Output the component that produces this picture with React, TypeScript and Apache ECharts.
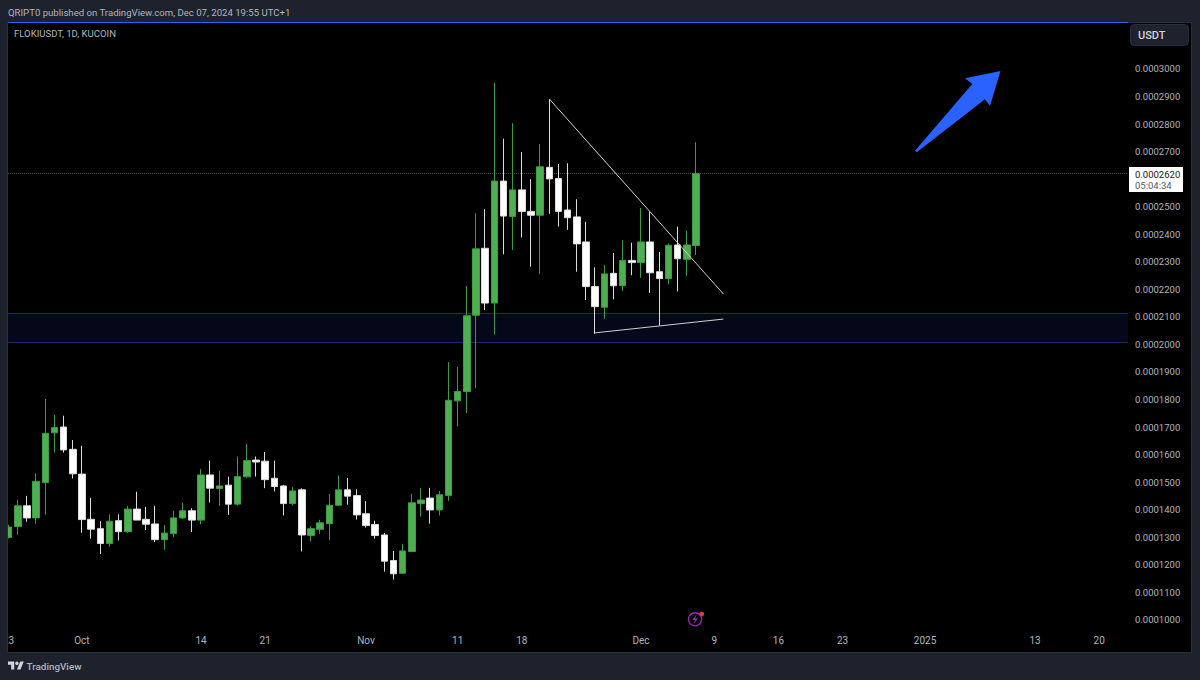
import React, { useEffect, useRef } from "react";
import * as echarts from "echarts";

// Prices are expressed in units of 1e-7 USDT.
const PRICE_UNIT = 1e7;

const opens = [1299,1339,1414,1370,1498,1679,1700,1619,1529,1365,1331,1277,1360,1320,1402,1365,1348,1291,1313,1370,1396,1362,1526,1477,1489,1420,1519,1580,1576,1514,1486,1422,1472,1306,1329,1349,1416,1472,1451,1385,1346,1308,1215,1169,1248,1422,1442,1399,1451,1795,1829,2106,2349,2150,2593,2464,2561,2483,2469,2643,2602,2488,2463,2372,2210,2135,2258,2213,2305,2297,2372,2264,2239,2361,2309,2359];
const closes = [1337,1414,1370,1503,1677,1698,1617,1530,1364,1329,1277,1358,1320,1402,1362,1347,1291,1315,1370,1396,1362,1526,1478,1486,1420,1520,1578,1573,1509,1484,1422,1468,1308,1331,1352,1416,1472,1449,1381,1342,1306,1213,1167,1250,1425,1435,1399,1454,1797,1829,2104,2347,2150,2593,2466,2561,2483,2469,2645,2601,2483,2460,2365,2210,2137,2256,2213,2305,2297,2372,2260,2239,2360,2311,2361,2620];
const lows = [1295,1309,1356,1349,1382,1607,1607,1513,1316,1295,1239,1266,1288,1315,1362,1326,1282,1254,1300,1366,1319,1347,1426,1414,1381,1415,1516,1520,1478,1466,1379,1415,1248,1285,1312,1289,1416,1418,1364,1335,1295,1175,1146,1169,1248,1375,1349,1379,1432,1702,1751,1841,2125,2036,2327,2343,2388,2282,2256,2474,2428,2416,2264,2161,2038,2093,2164,2194,2251,2242,2187,2068,2218,2192,2249,2325];
const highs = [1345,1436,1450,1532,1802,1744,1741,1653,1632,1443,1358,1383,1383,1414,1465,1410,1414,1344,1396,1425,1405,1548,1578,1541,1520,1593,1638,1593,1609,1578,1490,1483,1478,1340,1363,1457,1524,1515,1474,1431,1360,1315,1250,1276,1457,1479,1479,1468,1936,1918,2212,2476,2491,2950,2747,2803,2698,2600,2728,2890,2655,2658,2527,2445,2280,2289,2332,2378,2369,2495,2482,2336,2366,2428,2413,2734];

const firstDay = Date.UTC(2024, 8, 23);
const dayCount = 123;
const categories = Array.from({ length: dayCount }, (_, i) =>
  new Date(firstDay + i * 86400000).toISOString().slice(0, 10)
);

const timeLabels: Record<string, string> = {
  "2024-09-23": "23",
  "2024-10-01": "Oct",
  "2024-10-14": "14",
  "2024-10-21": "21",
  "2024-11-01": "Nov",
  "2024-11-11": "11",
  "2024-11-18": "18",
  "2024-12-01": "Dec",
  "2024-12-09": "9",
  "2024-12-16": "16",
  "2024-12-23": "23",
  "2025-01-01": "2025",
  "2025-01-13": "13",
  "2025-01-20": "20",
};

const priceTicks = [1000,1100,1200,1300,1400,1500,1600,1700,1800,1900,2000,2100,2200,2300,2400,2500,2700,2800,2900,3000];
const lastPrice = 2620;
const zoneLow = 2007;
const zoneHigh = 2112;
const upperTrend: [string, number][] = [["2024-11-21", 2891], ["2024-12-10", 2183]];
const lowerTrend: [string, number][] = [["2024-11-26", 2042], ["2024-12-10", 2092]];

const PANEL = "#1e222d";
const TEXT = "#b2b5be";
const FONT = "Roboto, sans-serif";

echarts.graphic.registerShape(
  "logo",
  echarts.graphic.extendPath(
    "M14 22H7V11H0V4h14v18zM28 22h-8l7.5-18h8L28 22zM24 8a4 4 0 1 1-8 0 4 4 0 0 1 8 0z",
    {}
  )
);

export default function App() {
  const ref = useRef<HTMLDivElement>(null);

  useEffect(() => {
    document.body.style.margin = "0";
    const chart = echarts.init(ref.current!, undefined, { renderer: "svg" });
    chart.setOption({
      animation: false,
      backgroundColor: PANEL,
      grid: { left: 0.9, top: 23, width: 1130.4, height: 607 },
      xAxis: {
        type: "category",
        data: categories,
        boundaryGap: true,
        axisLine: { show: false },
        axisTick: { show: false },
        splitLine: { show: false },
        axisLabel: {
          interval: (_: number, v: string) => v in timeLabels,
          formatter: (v: string) => timeLabels[v] ?? "",
          color: TEXT,
          fontFamily: FONT,
          fontSize: 10,
          margin: 5,
          hideOverlap: false,
        },
      },
      yAxis: {
        type: "value",
        position: "right",
        min: 963,
        max: 3167,
        z: 10,
        axisLine: { show: false },
        axisTick: { show: false },
        splitLine: { show: false },
        axisLabel: {
          customValues: priceTicks,
          formatter: (v: number) => (v / PRICE_UNIT).toFixed(7),
          color: TEXT,
          fontFamily: FONT,
          fontSize: 9.5,
          margin: 3.7,
        },
      },
      series: [
        {
          type: "candlestick",
          barWidth: 7,
          data: opens.map((o, i) => [o, closes[i], lows[i], highs[i]]),
          itemStyle: {
            color: "#4caf50",
            color0: "#ffffff",
            borderColor: "#3f9a44",
            borderColor0: "#dcdcdc",
            borderWidth: 1,
          },
          markArea: {
            silent: true,
            z: 1,
            itemStyle: { color: "#040818", borderColor: "#1a2f6f", borderWidth: 1 },
            data: [[{ yAxis: zoneHigh }, { yAxis: zoneLow }]],
          },
          markLine: {
            silent: true,
            z: 1,
            symbol: "none",
            label: { show: false },
            lineStyle: { color: "#4c4e55", type: "dotted", width: 1 },
            data: [{ yAxis: lastPrice }],
          },
        },
        {
          type: "line",
          data: upperTrend,
          symbol: "none",
          silent: true,
          lineStyle: { color: "#cfcfcf", width: 1 },
          z: 3,
        },
        {
          type: "line",
          data: lowerTrend,
          symbol: "none",
          silent: true,
          lineStyle: { color: "#cfcfcf", width: 1 },
          z: 3,
        },
      ],
      graphic: [
        { type: "rect", z: -1, shape: { x: 8, y: 23, width: 1183, height: 629 }, style: { fill: "#000000" } },
        // masks that clip the plot at its real borders
        { type: "rect", z: 5, shape: { x: 1128, y: 23, width: 63, height: 607 }, style: { fill: "#000000" } },
        { type: "rect", z: 20, shape: { x: 0, y: 23, width: 8, height: 629 }, style: { fill: PANEL } },
        { type: "line", z: 21, shape: { x1: 7.5, y1: 23, x2: 7.5, y2: 652 }, style: { stroke: "#2a2e39", lineWidth: 1 } },
        { type: "line", z: 21, shape: { x1: 8, y1: 652.5, x2: 1192, y2: 652.5 }, style: { stroke: "#2a2e39", lineWidth: 1 } },
        { type: "line", z: 21, shape: { x1: 1191.5, y1: 22, x2: 1191.5, y2: 652 }, style: { stroke: "#2a2e39", lineWidth: 1 } },
        { type: "line", z: 21, shape: { x1: 1128, y1: 22.5, x2: 1192, y2: 22.5 }, style: { stroke: "#2a2e39", lineWidth: 1 } },
        { type: "line", z: 21, shape: { x1: 8, y1: 22.5, x2: 1128, y2: 22.5 }, style: { stroke: "#2962ff", lineWidth: 1 } },
        { type: "text", z: 21, x: 8, y: 12, style: { text: "QRIPT0 published on TradingView.com, Dec 07, 2024 19:55 UTC+1", fill: TEXT, font: `9.6px ${FONT}`, textVerticalAlign: "middle" } },
        { type: "text", z: 21, x: 14, y: 33.5, style: { text: "FLOKIUSDT, 1D, KUCOIN", fill: TEXT, font: `9.55px ${FONT}`, textVerticalAlign: "middle" } },
        { type: "rect", z: 21, shape: { x: 1130.5, y: 24.5, width: 58, height: 21, r: 4 }, style: { fill: PANEL, stroke: "#2a2e39", lineWidth: 1 } },
        { type: "text", z: 22, x: 1138, y: 35.5, style: { text: "USDT", fill: "#d1d4dc", font: `500 11px ${FONT}`, textVerticalAlign: "middle" } },
        { type: "rect", z: 21, shape: { x: 1129, y: 167, width: 54, height: 25 }, style: { fill: "#ffffff" } },
        { type: "text", z: 22, x: 1135, y: 174.5, style: { text: "0.0002620", fill: "#131722", font: `9.5px ${FONT}`, textVerticalAlign: "middle" } },
        { type: "text", z: 22, x: 1135, y: 185.5, style: { text: "05:04:34", fill: "#555a66", font: `9.5px ${FONT}`, textVerticalAlign: "middle" } },
        // blue arrow annotation
        {
          type: "polygon",
          z: 15,
          shape: { points: [[1000.5, 71], [965, 78.3], [972.3, 84], [915, 150.7], [916.7, 152.3], [985, 99.3], [990, 106]] },
          style: { fill: "#2962ff" },
        },
        // lightning badge
        { type: "ring", z: 15, shape: { cx: 695, cy: 619.3, r: 7.2, r0: 5.9 }, style: { fill: "#9c27b0" } },
        { type: "polygon", z: 15, shape: { points: [[696.5, 614.5], [692.3, 620], [694.8, 620], [693.5, 624], [697.8, 618.5], [695.3, 618.5]] }, style: { fill: "#9c27b0" } },
        { type: "circle", z: 16, shape: { cx: 701.7, cy: 614, r: 2.4 }, style: { fill: "#f23645" } },
        // TradingView footer
        { type: "logo", z: 21, x: 8, y: 659.8, scaleX: 0.445, scaleY: 0.445, style: { fill: "#d1d4dc" } },
        { type: "text", z: 21, x: 26.5, y: 666, style: { text: "TradingView", fill: "#b2b5be", font: `500 9.9px ${FONT}`, textVerticalAlign: "middle" } },
      ],
    });
    return () => chart.dispose();
  }, []);

  return <div ref={ref} style={{ position: "absolute", left: 0, top: 0, width: 1200, height: 680 }} />;
}
